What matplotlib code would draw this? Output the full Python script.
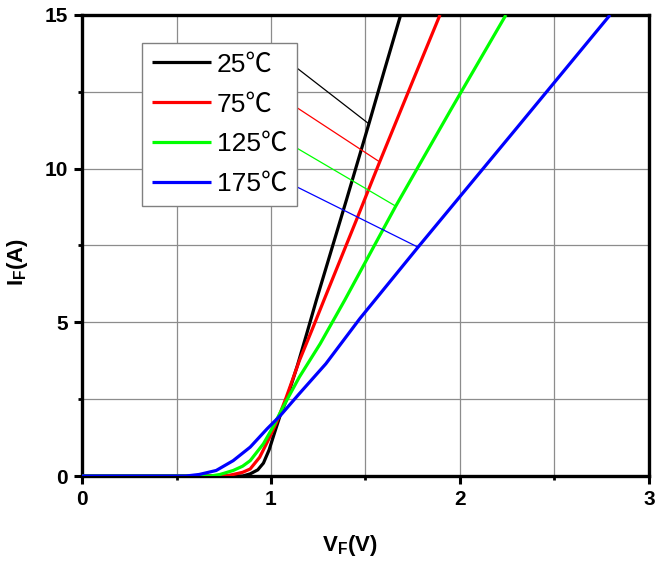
import numpy as np
import matplotlib
matplotlib.use("Agg")
import matplotlib.pyplot as plt
from matplotlib.ticker import MultipleLocator
from matplotlib import font_manager

plt.rcParams['font.family'] = ['Liberation Sans', 'Noto Sans CJK SC', 'DejaVu Sans']
plt.rcParams['mathtext.fontset'] = 'custom'
plt.rcParams['mathtext.rm'] = 'Liberation Sans'
plt.rcParams['mathtext.bf'] = 'Liberation Sans:bold'
plt.rcParams['mathtext.default'] = 'bf'

# forward characteristics
labels = ["25℃", "75℃", "125℃", "175℃"]
colors = ["#000000", "#ff0000", "#00ff00", "#0000ff"]

vf_25 = [0, 0.85, 0.89, 0.93, 0.96, 0.99, 1.02, 1.05, 1.08, 1.14, 1.19, 1.24, 1.40, 1.52, 1.60, 1.686]
if_25 = [0, 0, 0.07, 0.2, 0.42, 0.85, 1.43, 2.0, 2.45, 3.6, 4.65, 5.72, 9.0, 11.5, 13.2, 15.0]

vf_75 = [0, 0.76, 0.80, 0.85, 0.89, 0.94, 0.985, 1.03, 1.08, 1.15, 1.22, 1.28, 1.45, 1.575, 1.75, 1.894]
if_75 = [0, 0, 0.05, 0.12, 0.23, 0.61, 1.16, 1.75, 2.55, 3.75, 4.8, 5.72, 8.3, 10.22, 12.85, 15.0]

vf_125 = [0, 0.68, 0.73, 0.80, 0.85, 0.89, 0.96, 1.01, 1.06, 1.15, 1.26, 1.39, 1.66, 1.95, 2.243]
if_125 = [0, 0, 0.05, 0.18, 0.32, 0.5, 1.05, 1.59, 2.2, 3.22, 4.3, 5.72, 8.78, 11.9, 15.0]

vf_175 = [0, 0.55, 0.62, 0.71, 0.80, 0.89, 0.98, 1.05, 1.15, 1.29, 1.47, 1.78, 2.30, 2.794]
if_175 = [0, 0, 0.05, 0.18, 0.5, 0.94, 1.54, 1.97, 2.68, 3.65, 5.12, 7.46, 11.32, 15.0]

curves = [(vf_25, if_25), (vf_75, if_75), (vf_125, if_125), (vf_175, if_175)]

# where the leader lines from the legend touch each curve (V)
leader_v = [1.518, 1.575, 1.66, 1.778]

fig = plt.figure(figsize=(6.55, 5.65), dpi=100)
ax = fig.add_axes([0.1252, 0.1575, 0.8656, 0.816])

lines = []
for (v, i), lab, col in zip(curves, labels, colors):
    ln, = ax.plot(v, i, color=col, lw=2.3, label=lab, solid_capstyle='butt', zorder=3)
    lines.append(ln)

ax.set_xlim(0, 3)
ax.set_ylim(0, 15)
ax.xaxis.set_major_locator(MultipleLocator(1))
ax.xaxis.set_minor_locator(MultipleLocator(0.5))
ax.yaxis.set_major_locator(MultipleLocator(5))
ax.yaxis.set_minor_locator(MultipleLocator(2.5))
ax.grid(True, which='both', color='#8c8c8c', lw=0.9, zorder=0)
ax.set_axisbelow(True)

for sp in ax.spines.values():
    sp.set_linewidth(2.4)
ax.tick_params(which='major', direction='out', length=6, width=2.2, pad=4,
               labelsize=15)
ax.tick_params(which='minor', direction='out', length=3, width=2.0)
for t in ax.get_xticklabels() + ax.get_yticklabels():
    t.set_fontweight('bold')

ax.set_xlabel('V$_F$(V)', fontsize=16, fontweight='bold')
ax.set_ylabel('I$_F$(A)', fontsize=16, fontweight='bold')
ax.xaxis.set_label_coords(0.473, -0.124)
ax.yaxis.set_label_coords(-0.092, 0.464)

# legend text is a narrow face in the original
names = {f.name for f in font_manager.fontManager.ttflist}
leg_family = ['Liberation Sans Narrow'] if 'Liberation Sans Narrow' in names else ['Liberation Sans']
leg_family += ['Noto Sans CJK SC', 'DejaVu Sans']
leg_size = 21 if 'Liberation Sans Narrow' in names else 19

leg = ax.legend(handles=lines, loc='upper left', bbox_to_anchor=(0.106, 0.939),
                borderaxespad=0, prop={'family': leg_family, 'size': leg_size},
                handlelength=2.25, handletextpad=0.22,
                labelspacing=0.6, borderpad=0.36, fancybox=False, framealpha=1)
leg.get_frame().set_edgecolor('#808080')
leg.get_frame().set_linewidth(1.0)
leg.set_zorder(5)

# thin leader lines from the legend entries to the curves
starts = [(1.117, 13.37), (1.126, 12.03), (1.117, 10.74), (1.126, 9.44)]
for (v, i), col, lv, st in zip(curves, colors, leader_v, starts):
    li = np.interp(lv, v, i)
    ax.plot([st[0], lv], [st[1], li], color=col, lw=0.9, zorder=4)

fig.savefig('out.png', dpi=100)
